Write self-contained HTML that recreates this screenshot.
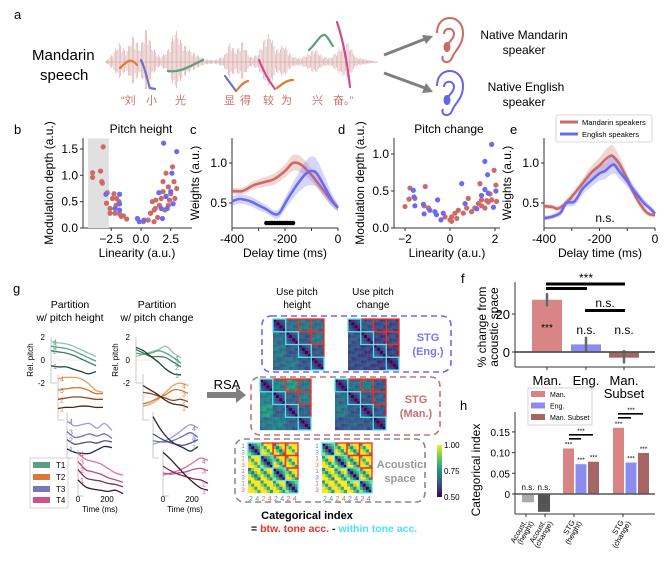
<!DOCTYPE html>
<html><head><meta charset="utf-8"><style>
html,body{margin:0;padding:0;background:#fff;}
svg{display:block;font-family:"Liberation Sans","Noto Sans CJK SC",sans-serif;}
</style></head><body>
<svg id="fig" width="670" height="563" viewBox="0 0 670 563" xmlns="http://www.w3.org/2000/svg">
<!-- panel a static -->
<text x="14" y="19" font-size="13">a</text>
<text x="32" y="60" font-size="15">Mandarin</text>
<text x="40" y="80" font-size="15">speech</text>
<g id="wave"></g>
<g font-size="11" fill="#c8706a" font-family="'Liberation Sans','Noto Sans CJK SC',sans-serif">
<text x="121" y="104">“刘</text><text x="146" y="104">小</text><text x="175" y="104">光</text>
<text x="224" y="104">显</text><text x="240" y="104">得</text><text x="263" y="104">较</text><text x="281" y="104">为</text>
<text x="312" y="104">兴</text><text x="333" y="104">奋。”</text></g>
<g fill="none" stroke-width="2.2" stroke-linecap="round">
<path d="M120,68 C126,63 130,56 137,65" stroke="#e07a30"/>
<path d="M141,60 C146,70 148,84 150,88 L155,89" stroke="#7070c8"/>
<path d="M168,71 C180,73 190,66 203,60" stroke="#5aa07a"/>
<path d="M225,76 L236,91" stroke="#7070c8"/>
<path d="M237,90 C240,86 244,82 248,81" stroke="#e07a30"/>
<path d="M259,60 C264,72 268,80 275,89" stroke="#d04a90"/>
<path d="M277,88 C282,84 287,80 293,80" stroke="#e07a30"/>
<path d="M309,50 C316,44 320,34 325,35 C329,38 331,44 333,46" stroke="#5aa07a"/>
<path d="M337,22 C343,40 347,60 350,87" stroke="#d04a90"/>
</g>
<g stroke="#7f7f7f" stroke-width="3">
<line x1="384" y1="55" x2="425" y2="39"/><polygon points="433,36 422,35 426,44" fill="#7f7f7f" stroke="none"/>
<line x1="384" y1="73" x2="425" y2="88"/><polygon points="433,92 426,83 422,93" fill="#7f7f7f" stroke="none"/>
</g>
<g transform="translate(437,18)" fill="none" stroke="#c86b66" stroke-width="2">
<path d="M6,38 C3,44 12,47 15,40 C17,33 26,28 26,15 C26,5 19,0 13,0 C5,0 0,6 0,15"/>
<path d="M7,16 C7,9 17,9 17,16 C17,21 12,23 11,27"/><ellipse cx="10" cy="29" rx="2.5" ry="4" fill="#c86b66"/></g>
<g transform="translate(437,71)" fill="none" stroke="#6565e6" stroke-width="2">
<path d="M6,38 C3,44 12,47 15,40 C17,33 26,28 26,15 C26,5 19,0 13,0 C5,0 0,6 0,15"/>
<path d="M7,16 C7,9 17,9 17,16 C17,21 12,23 11,27"/><ellipse cx="10" cy="29" rx="2.5" ry="4" fill="#6565e6"/></g>
<g font-size="12" text-anchor="middle">
<text x="524" y="39">Native Mandarin</text><text x="524" y="54">speaker</text>
<text x="526" y="91">Native English</text><text x="524" y="106">speaker</text></g>

<!-- row 2 labels -->
<g font-size="13">
<text x="14" y="134">b</text><text x="190" y="134">c</text><text x="338" y="134">d</text><text x="510" y="134">e</text></g>
<text x="141" y="133" font-size="12" text-anchor="middle">Pitch height</text>
<text x="449" y="133" font-size="12" text-anchor="middle">Pitch change</text>
<g id="row2"></g>

<!-- panel g -->
<text x="13" y="293" font-size="13">g</text>
<g font-size="10.5" text-anchor="middle">
<text x="70" y="308">Partition</text><text x="70" y="321">w/ pitch height</text>
<text x="157" y="308">Partition</text><text x="157" y="321">w/ pitch change</text></g>
<g id="gplots"></g>
<g>
<rect x="30" y="458" width="38" height="50" fill="#fff" stroke="#ccc" stroke-width="0.8"/>
<rect x="33" y="462" width="17" height="6" fill="#5aa07a"/><text x="56" y="468" font-size="8">T1</text>
<rect x="33" y="474" width="17" height="6" fill="#d87a3a"/><text x="56" y="480" font-size="8">T2</text>
<rect x="33" y="486" width="17" height="6" fill="#7777bb"/><text x="56" y="492" font-size="8">T3</text>
<rect x="33" y="497" width="17" height="6" fill="#d05090"/><text x="56" y="503" font-size="8">T4</text></g>
<text x="227" y="389" font-size="13" text-anchor="middle">RSA</text>
<g><rect x="207" y="392" width="30" height="6" fill="#808080"/><polygon points="236,387 246,395 236,403" fill="#808080"/></g>
<g font-size="10" text-anchor="middle">
<text x="297" y="295">Use pitch</text><text x="297" y="308">height</text>
<text x="373" y="295">Use pitch</text><text x="373" y="308">change</text></g>
<rect x="262" y="316" width="189" height="56" rx="9" fill="none" stroke="#6a6aee" stroke-width="1.6" stroke-dasharray="6,4"/>
<rect x="251" y="377" width="189" height="58" rx="9" fill="none" stroke="#c87070" stroke-width="1.6" stroke-dasharray="6,4"/>
<rect x="235" y="439" width="190" height="63" rx="9" fill="none" stroke="#888" stroke-width="1.6" stroke-dasharray="6,4"/>
<g font-size="11" font-weight="bold" text-anchor="middle">
<text x="428" y="341" fill="#7777ee">STG</text><text x="428" y="355" fill="#7777ee">(Eng.)</text>
<text x="416" y="403" fill="#c87070">STG</text><text x="416" y="417" fill="#c87070">(Man.)</text>
<text x="400" y="468" fill="#999">Acoustic</text><text x="400" y="482" fill="#999">space</text></g>
<g id="mats"></g>
<defs><linearGradient id="vgrad" x1="0" y1="1" x2="0" y2="0">
<stop offset="0" stop-color="#440154"/><stop offset="0.25" stop-color="#3b528b"/><stop offset="0.5" stop-color="#21918c"/><stop offset="0.75" stop-color="#5ec962"/><stop offset="1" stop-color="#fde725"/></linearGradient></defs>
<rect x="437" y="445" width="5" height="52" fill="url(#vgrad)"/>
<g font-size="8"><text x="444" y="448">1.00</text><text x="444" y="474">0.75</text><text x="444" y="500">0.50</text></g>
<text x="307" y="519" font-size="11" font-weight="bold" text-anchor="middle">Categorical index</text>
<text x="251" y="532" font-size="10.5" font-weight="bold">= <tspan fill="#e8302a">btw. tone acc.</tspan> - <tspan fill="#4fe0f0">within tone acc.</tspan></text>

<!-- f & h -->
<text x="461" y="283" font-size="13">f</text>
<text x="460" y="410" font-size="13">h</text>
<g id="fh"></g>
</svg>
<script>
// ---------- DATA ----------
const bRedX=[-4.07,-4.07,-3.4,-3.18,-3.3,-3.25,-2.83,-2.9,-2.6,-2.27,-2.05,-2.1,-2.6,-2.18,-1.8,-1.48,-1.2,-1.67,-1.85,-2.4,0.2,0.6,0.8,0.95,1.1,1.2,1.4,1.55,1.7,1.85,1.85,2.1,2.3,2.5,2.65,2.77,3.0,2.85,1.25,2.0,2.3,2.1,2.4,1.1];
const bRedY=[1.05,0.96,1.08,1.54,0.88,0.85,0.67,0.47,0.37,0.65,0.56,0.43,0.28,0.28,0.27,0.23,0.17,0.22,0.5,0.56,0.12,0.15,0.28,0.5,0.12,0.37,0.2,0.43,0.56,0.69,0.88,1.04,0.78,0.65,1.16,0.88,0.75,0.56,0.53,0.34,0.43,0.6,0.53,0.34];
const bBlueX=[-2.95,-2.18,-1.8,-1.8,-1.8,-0.3,-0.15,0.25,1.5,1.9,1.8,2.1,2.2,2.5,2.6,3.0,2.7,1.7];
const bBlueY=[0.64,0.37,0.64,0.46,0.34,0.18,0.12,0.15,0.67,1.61,0.18,0.6,0.37,0.69,1.04,1.45,0.46,0.37];
const dRedX=[-2.0,-1.82,-1.78,-1.56,-1.1,-1.15,-0.96,-0.22,0,0.07,0.22,0.37,0.59,0.74,0.81,0.96,1.1,1.26,1.33,1.4,1.55,1.63,1.78,1.85,1.96,2.04,2.07,0.07,0.3,1.4,1.7];
const dRedY=[0.29,0.39,0.54,0.4,0.56,0.3,0.27,0.15,0.11,0.15,0.2,0.24,0.2,0.27,0.4,0.22,0.27,0.33,0.6,0.38,0.27,0.37,0.46,0.38,0.78,0.58,0.36,0.09,0.13,0.3,0.35];
const dBlueX=[-1.63,-1.6,-1.56,-1.18,-1.15,-0.9,-0.67,-0.55,-0.6,-0.4,-0.3,0.52,0.67,1.19,1.4,1.55,1.55,1.67,1.85,1.7,1.93,2.04];
const dBlueY=[0.51,0.42,0.3,0.32,0.19,0.24,0.22,0.38,0.18,0.11,0.2,0.6,0.33,0.26,0.44,0.52,0.9,0.72,1.13,0.47,0.28,0.5];
const cTime=[-400,-360,-320,-280,-240,-200,-170,-140,-100,-60,-30,0];
const cMan=[0.65,0.65,0.72,0.76,0.8,0.9,1.0,0.98,0.85,0.68,0.55,0.44];
const cManErr=[0.04,0.04,0.05,0.06,0.07,0.08,0.1,0.1,0.08,0.07,0.06,0.04];
const cTimeE=[-400,-370,-330,-300,-270,-240,-220,-190,-150,-120,-100,-80,-50,-20,0];
const cEng=[0.52,0.55,0.52,0.47,0.42,0.36,0.38,0.55,0.75,0.87,0.9,0.87,0.7,0.52,0.44];
const cEngErr=[0.06,0.06,0.06,0.06,0.05,0.05,0.06,0.08,0.12,0.16,0.18,0.17,0.13,0.08,0.05];
const cSigTimes=[-270,-260,-250,-240,-230,-220,-210,-200,-190,-180,-170];
const eTime=[-400,-370,-350,-320,-290,-260,-230,-200,-180,-160,-150,-130,-100,-70,-40,-20,0];
const eMan=[0.46,0.45,0.43,0.5,0.62,0.75,0.88,0.97,1.04,1.09,1.08,1.0,0.8,0.58,0.42,0.36,0.35];
const eManErr=[0.03,0.03,0.03,0.04,0.05,0.06,0.08,0.1,0.12,0.13,0.13,0.1,0.07,0.05,0.04,0.03,0.03];
const eTimeE=[-400,-370,-340,-320,-290,-260,-230,-200,-180,-150,-130,-100,-70,-40,-20,0];
const eEng=[0.31,0.33,0.38,0.5,0.52,0.68,0.78,0.87,0.9,0.98,0.9,0.77,0.63,0.5,0.44,0.37];
const eEngErr=[0.03,0.03,0.04,0.05,0.05,0.07,0.08,0.09,0.1,0.11,0.09,0.07,0.06,0.05,0.04,0.03];
const fCats=["Man.","Eng.","Man. Subset"];
const fVals=[27.5,4,-3];
const fLo=[24,0,-6];
const fHi=[31,8,1];
const fTicks=[0,20];
const hGroups=["Acoust. (height)","Acoust. (change)","STG (height)","STG (change)"];
const hAcoust=[-0.02,-0.043];
const hManVals=[0.11,0.16];
const hEngVals=[0.072,0.076];
const hSubVals=[0.078,0.099];
const hTicks=[0,0.05,0.10,0.15];
const hTickLabels=["0","0.05","0.10","0.15"];
const waveEnv=[[105,0],[112,8],[120,20],[126,10],[133,28],[140,14],[146,36],[152,16],[160,5],[168,12],[175,34],[182,20],[190,12],[198,7],[205,3],[215,2],[224,6],[230,20],[236,10],[242,22],[250,5],[258,8],[264,22],[270,30],[276,12],[284,18],[292,6],[300,4],[308,8],[315,14],[322,6],[330,4],[340,14],[348,20],[356,5],[365,3],[378,0]];
// pitch lines: [level4, level3, level2, level1]
const gHeight=[
[[1.6,1.5,1.4,1.2,0.9,0.6,0.3],[1.2,1.1,1.0,0.8,0.5,0.2,-0.1],[0.8,0.7,0.6,0.4,0.1,-0.2,-0.5],[-0.5,-0.6,-0.6,-0.8,-1.0,-1.2,-1.0]],
[[1.6,1.7,1.7,1.6,1.2,0.6,0.4],[0.6,0.7,0.8,0.8,0.6,0.3,0.3],[-0.2,-0.1,0,0,-0.1,-0.2,-0.2],[-1.0,-0.9,-0.9,-0.8,-0.8,-0.9,-0.9]],
[[1.2,0.8,0.9,1.0,0.6,1.0,0.4],[0.3,-0.2,-0.1,0.1,-0.1,0.1,-0.3],[-0.4,-0.8,-0.7,-0.6,-0.7,-0.5,-0.6],[-1.2,-1.5,-1.6,-1.6,-1.3,-1.0,-1.1]],
[[1.7,1.2,1.0,0.8,0.4,0.0,-0.2],[1.0,0.3,0.1,-0.1,-0.4,-0.6,-0.8],[0.3,-0.4,-0.6,-0.7,-0.9,-1.0,-1.2],[-0.6,-1.2,-1.4,-1.5,-1.6,-1.5,-1.8]]];
const gChange=[
[[0.3,0.5,0.7,0.9,1.2,0.6,0.2],[0.6,0.5,0.6,0.8,0.6,0.2,-0.3],[0.9,0.6,0.3,0.3,0.2,-0.2,-0.6],[1.1,0.8,0.3,-0.2,-0.8,-1.2,-1.3]],
[[-0.8,-0.6,-0.2,0.4,1.0,1.2,1.0],[-0.6,-0.4,-0.1,0.2,0.6,0.6,0.3],[0.4,0.3,0.1,-0.1,-0.3,-0.2,-0.4],[1.0,0.6,0.2,-0.3,-0.6,-0.7,-0.9]],
[[-0.8,-0.6,-0.4,0,0.5,0.9,0.6],[-0.5,-0.6,-0.6,-0.4,-0.1,0.2,-0.2],[0.1,-0.3,-0.6,-0.8,-0.9,-0.7,-0.4],[1.6,0.5,-0.3,-0.8,-1.1,-1.4,-1.0]],
[[-0.2,0.0,0.2,0.5,0.9,1.3,1.1],[0.0,-0.1,0.0,0.1,0.3,0.4,0.2],[0.6,0.2,-0.1,-0.3,-0.5,-0.6,-0.9],[1.8,1.2,0.5,-0.2,-0.8,-1.3,-1.5]]];
const matEngH=[[0.55,0.68,0.70,0.68],[0.68,0.57,0.64,0.70],[0.70,0.64,0.57,0.64],[0.68,0.70,0.64,0.56]];
const matEngC=[[0.55,0.64,0.62,0.62],[0.64,0.58,0.60,0.62],[0.62,0.60,0.58,0.60],[0.62,0.62,0.60,0.54]];
const matManH=[[0.56,0.72,0.76,0.70],[0.72,0.58,0.66,0.72],[0.76,0.66,0.58,0.66],[0.70,0.72,0.66,0.57]];
const matManC=[[0.55,0.68,0.70,0.64],[0.68,0.56,0.64,0.66],[0.70,0.64,0.56,0.64],[0.64,0.66,0.64,0.54]];
const matAcH=[[0.60,0.90,0.80,0.92],[0.90,0.62,0.84,0.88],[0.80,0.84,0.62,0.86],[0.92,0.88,0.86,0.62]];
const matAcC=[[0.60,0.86,0.84,0.88],[0.86,0.64,0.82,0.90],[0.84,0.82,0.64,0.84],[0.88,0.90,0.84,0.62]];

// ---------- helpers ----------
const NS="http://www.w3.org/2000/svg";
function E(tag,attrs,parent){const el=document.createElementNS(NS,tag);for(const k in attrs)el.setAttribute(k,attrs[k]);parent.appendChild(el);return el;}
function T(x,y,s,attrs,parent){const el=E('text',Object.assign({x:x,y:y},attrs),parent);el.textContent=s;return el;}
const RED="#cd6a66",BLUE="#6b6bf0";

// waveform
const wave=document.getElementById('wave');
E('line',{x1:105,y1:62,x2:378,y2:62,stroke:'#e3c0c0','stroke-width':1},wave);
for(let x=105;x<=378;x+=1.3){
  let a=0;for(let i=0;i<waveEnv.length-1;i++){const p=waveEnv[i],q=waveEnv[i+1];if(x>=p[0]&&x<=q[0]){a=p[1]+(q[1]-p[1])*(x-p[0])/(q[0]-p[0]);}}
  const f=0.55+0.45*Math.abs(Math.sin(x*1.7));
  const l=E('line',{x1:x,y1:62-a*f,x2:x,y2:62+a*f*0.85,stroke:'#d9a9a9','stroke-width':0.8,opacity:0.85},wave);
}

// ---------- row 2 ----------
const row2=document.getElementById('row2');
function axes(x0,x1,y0,y1,name){
  const g=E('g',{},row2);
  
  
  E('line',{x1:x0,y1:y0,x2:x0,y2:y1,stroke:'#333','stroke-width':1},g);
  E('line',{x1:x0,y1:y1,x2:x1,y2:y1,stroke:'#333','stroke-width':1},g);
  return g;
}
function ytick(g,x0,y,lab){E('line',{x1:x0-3,y1:y,x2:x0,y2:y,stroke:'#333'},g);T(x0-5,y+4,lab,{'font-size':12,'text-anchor':'end'},g);}
function xtick(g,x,y1,lab){E('line',{x1:x,y1:y1,x2:x,y2:y1+3,stroke:'#333'},g);T(x,y1+15,lab,{'font-size':12,'text-anchor':'middle'},g);}
function ylab(g,x,y,s){T(x,y,s,{'font-size':12,'text-anchor':'middle',transform:`rotate(-90 ${x} ${y})`},g);}

// b
const bx=v=>141+v*11.9, by=v=>228-v*52.7;
let gb=axes(83,192,138,228,'panel-b-axes');
E('rect',{x:bx(-4.45),y:by(1.7),width:bx(-2.7)-bx(-4.45),height:by(0)-by(1.7),fill:'#e0e0e0'},gb);
[[0,'0.0'],[0.5,'0.5'],[1,'1.0'],[1.5,'1.5']].forEach(t=>ytick(gb,83,by(t[0]),t[1]));
[[-2.5,'−2.5'],[0,'0.0'],[2.5,'2.5']].forEach(t=>xtick(gb,bx(t[0]),228,t[1]));
ylab(gb,53,183,'Modulation depth (a.u.)');T(137,257,'Linearity (a.u.)',{'font-size':12,'text-anchor':'middle'},gb);
bRedX.forEach((v,i)=>{const c=E('circle',{cx:bx(v),cy:by(bRedY[i]),r:2.6,fill:RED},gb);

});
bBlueX.forEach((v,i)=>{const c=E('circle',{cx:bx(v),cy:by(bBlueY[i]),r:2.6,fill:BLUE},gb);

});

// d
const dx=v=>450+v*22.5, dy=v=>228-v*74;
let gd=axes(394,500,138,228,'panel-d-axes');
[[0,'0.0'],[0.5,'0.5'],[1,'1.0']].forEach(t=>ytick(gd,394,dy(t[0]),t[1]));
[[-2,'−2'],[0,'0'],[2,'2']].forEach(t=>xtick(gd,dx(t[0]),228,t[1]));
ylab(gd,364,183,'Modulation depth (a.u.)');T(447,257,'Linearity (a.u.)',{'font-size':12,'text-anchor':'middle'},gd);
dRedX.forEach((v,i)=>{const c=E('circle',{cx:dx(v),cy:dy(dRedY[i]),r:2.6,fill:RED},gd);

});
dBlueX.forEach((v,i)=>{const c=E('circle',{cx:dx(v),cy:dy(dBlueY[i]),r:2.6,fill:BLUE},gd);

});

// line panels
function smoothPath(pts){let d=`M${pts[0][0]},${pts[0][1]}`;for(let i=0;i<pts.length-1;i++){const p0=pts[Math.max(0,i-1)],p1=pts[i],p2=pts[i+1],p3=pts[Math.min(pts.length-1,i+2)];
d+=` C${p1[0]+(p2[0]-p0[0])/6},${p1[1]+(p2[1]-p0[1])/6} ${p2[0]-(p3[0]-p1[0])/6},${p2[1]-(p3[1]-p1[1])/6} ${p2[0]},${p2[1]}`;}return d;}
function band(g,t,v,e,X,Y,col,name){
  const up=t.map((tt,i)=>[X(tt),Y(v[i]+e[i])]), lo=t.map((tt,i)=>[X(tt),Y(v[i]-e[i])]).reverse();
  const bp=E('path',{d:smoothPath(up)+' L'+lo[0][0]+','+lo[0][1]+smoothPath(lo).slice(smoothPath(lo).indexOf('C')-1)+' Z',fill:col,opacity:0.28},g);
  
  
  const ln=E('path',{d:smoothPath(t.map((tt,i)=>[X(tt),Y(v[i])])),fill:'none',stroke:col,'stroke-width':2.6},g);
  
  
}
// c
const cx=t=>232+(t+400)*0.265, cy=v=>163-(v-1)*80;
let gc=axes(232,338,138,228,'panel-c-axes');
[[0.5,'0.5'],[1,'1.0']].forEach(t=>ytick(gc,232,cy(t[0]),t[1]));
[[-400,'-400'],[-200,'-200'],[0,'0']].forEach(t=>xtick(gc,cx(t[0]),228,t[1]));
E('line',{x1:cx(-300),y1:228,x2:cx(-300),y2:231,stroke:'#333'},gc);E('line',{x1:cx(-100),y1:228,x2:cx(-100),y2:231,stroke:'#333'},gc);
ylab(gc,199,183,'Weights (a.u.)');T(285,257,'Delay time (ms)',{'font-size':12,'text-anchor':'middle'},gc);
band(gc,cTime,cMan,cManErr,cx,cy,RED,'c-mandarin');
band(gc,cTimeE,cEng,cEngErr,cx,cy,BLUE,'c-english');
cSigTimes.forEach(t=>{const c=E('circle',{cx:cx(t),cy:223,r:2.3,fill:'#000'},gc);

});
// e
const ex=t=>544+(t+400)*0.2775, ey=v=>163-(v-1)*80;
let ge=axes(544,655,138,228,'panel-e-axes');
[[0.5,'0.5'],[1,'1.0']].forEach(t=>ytick(ge,544,ey(t[0]),t[1]));
[[-400,'-400'],[-200,'-200'],[0,'0']].forEach(t=>xtick(ge,ex(t[0]),228,t[1]));
E('line',{x1:ex(-300),y1:228,x2:ex(-300),y2:231,stroke:'#333'},ge);E('line',{x1:ex(-100),y1:228,x2:ex(-100),y2:231,stroke:'#333'},ge);
ylab(ge,511,183,'Weights (a.u.)');T(600,257,'Delay time (ms)',{'font-size':12,'text-anchor':'middle'},ge);
band(ge,eTime,eMan,eManErr,ex,ey,RED,'e-mandarin');
band(ge,eTimeE,eEng,eEngErr,ex,ey,BLUE,'e-english');
T(605,222,'n.s.',{'font-size':12,'text-anchor':'middle'},ge);
const lg=E('g',{},row2);


E('rect',{x:556,y:115,width:96,height:27,fill:'#fff',stroke:'#ccc','stroke-width':0.8,rx:2},lg);
E('line',{x1:560,y1:122,x2:578,y2:122,stroke:RED,'stroke-width':3},lg);T(582,125,'Mandarin speakers',{'font-size':7.5},lg);
E('line',{x1:560,y1:134,x2:578,y2:134,stroke:BLUE,'stroke-width':3},lg);T(582,137,'English speakers',{'font-size':7.5},lg);

// ---------- panel g plots ----------
const gp=document.getElementById('gplots');
const toneCols=[["#8cc9a5","#5fa380","#3e7a5c","#1e4430"],["#e8a060","#d07a3a","#8a4a22","#4a2810"],["#9a9ad8","#7272b8","#4e4e88","#2a2a48"],["#e070a8","#c04d88","#7a3050","#3a1828"]];
const toneMain=["#5aa07a","#d87a3a","#7777bb","#d05090"];
const subZero=[360,397,435,473];
const leftAx=[51,58,67,78], rightAx=[136,143,153,163];
function drawG(data,axX,labelEnd,name){
  data.forEach((tone,k)=>{
    const x0=axX[k], z=subZero[k];
    const g=E('g',{},gp);
    
    
    E('line',{x1:x0,y1:z-23,x2:x0,y2:z+23,stroke:'#bbb','stroke-width':0.8},g);
    E('line',{x1:x0,y1:z+23,x2:x0+6,y2:z+23,stroke:'#bbb','stroke-width':0.8},g);
    E('line',{x1:x0,y1:z,x2:x0+45,y2:z,stroke:'#ddd','stroke-width':0.6},g);
    tone.forEach((ln,j)=>{
      const pts=ln.map((v,i)=>[x0+i*7.5,z-v*11.5]);
      const p=E('path',{d:smoothPath(pts),fill:'none',stroke:toneCols[k][j],'stroke-width':1.3},g);
      
      
      const lp=labelEnd?pts[pts.length-1]:pts[0];
      T(lp[0]+(labelEnd?-6:2),lp[1]+3,String(4-j),{'font-size':7,fill:toneMain[k]},g);
    });
  });
}
drawG(gHeight,leftAx,false,'height-partition');
drawG(gChange,rightAx,true,'change-partition');
const gax=E('g',{'font-size':8},gp);


T(45,340,'2',{'text-anchor':'end'},gax);T(45,363,'0',{'text-anchor':'end'},gax);T(45,386,'-2',{'text-anchor':'end'},gax);
T(130,340,'2',{'text-anchor':'end'},gax);T(130,363,'0',{'text-anchor':'end'},gax);T(130,386,'-2',{'text-anchor':'end'},gax);
T(33,360,'Rel. pitch',{'text-anchor':'middle',transform:'rotate(-90 33 360)'},gax);
T(118,360,'Rel. pitch',{'text-anchor':'middle',transform:'rotate(-90 118 360)'},gax);
T(78,502,'0',{'text-anchor':'middle'},gax);T(107,502,'200',{'text-anchor':'middle'},gax);T(100,512,'Time (ms)',{'text-anchor':'middle'},gax);
T(163,502,'0',{'text-anchor':'middle'},gax);T(192,502,'200',{'text-anchor':'middle'},gax);T(185,512,'Time (ms)',{'text-anchor':'middle'},gax);

// ---------- matrices ----------
const mats=document.getElementById('mats');
function vir(t){t=Math.max(0,Math.min(1,t));const s=[[68,1,84],[59,82,139],[33,145,140],[94,201,98],[253,231,37]];const p=t*4,i=Math.min(3,Math.floor(p)),f=p-i;
return `rgb(${s[i].map((c,k)=>Math.round(c+(s[i+1][k]-c)*f)).join(',')})`;}
function drawMat(x,y,size,blocks,acoustic,name){
  const g=E('g',{},mats);
  
  
  const n=16,c=size/n;
  for(let i=0;i<n;i++)for(let j=0;j<n;j++){
    const bi=Math.floor(i/4),bj=Math.floor(j/4),a=i%4,b=j%4;
    let v=blocks[bi][bj];
    if(i===j)v=0.5;
    else if(acoustic)v+=0.12*Math.abs(a-b)-0.06+(((i*5+j*3)%4)-1.5)*0.03;
    else v+=(bi===bj?0.03*Math.abs(a-b):(((i*7+j*11)%5)-2)*0.015);
    const r=E('rect',{x:x+j*c,y:y+i*c,width:c+0.2,height:c+0.2,fill:vir((v-0.5)/0.5)},g);
    
    
  }
  const bs=size/4;
  for(let bi=0;bi<4;bi++)for(let bj=bi+1;bj<4;bj++)E('rect',{x:x+bj*bs,y:y+bi*bs,width:bs,height:bs,fill:'none',stroke:'#ff2a1a','stroke-width':1.3},g);
  for(let bi=0;bi<4;bi++)E('rect',{x:x+bi*bs,y:y+bi*bs,width:bs,height:bs,fill:'none',stroke:'#50e8f0','stroke-width':1.3},g);
  if(acoustic){
    for(let k=0;k<8;k++){const col=toneMain[Math.floor(k/2)];
      T(x-5,y+k*size/8+5,k%2?'3':'1',{'font-size':6.5,fill:col,'text-anchor':'middle'},g);
      T(x+k*size/8+3,y+size+8,k%2?'4':'2',{'font-size':7,fill:col,'text-anchor':'middle'},g);}
  }
}
drawMat(273,319,51,matEngH,false,'matrix-stg-eng-height');
drawMat(348,319,51,matEngC,false,'matrix-stg-eng-change');
drawMat(260,379,51,matManH,false,'matrix-stg-man-height');
drawMat(335,379,51,matManC,false,'matrix-stg-man-change');
drawMat(248,443,50,matAcH,true,'matrix-acoustic-height');
drawMat(322,443,50,matAcC,true,'matrix-acoustic-change');

// ---------- f ----------
const fh=document.getElementById('fh');
const fy=v=>352-v*1.9, fxc=[547,586,624], fCols=["#d98585","#8c8cf0","#a56565"];
const gf=E('g',{},fh);


fVals.forEach((v,i)=>{
  const r=E('rect',{x:fxc[i]-15,y:Math.min(fy(v),fy(0)),width:30,height:Math.abs(fy(v)-fy(0)),fill:fCols[i]},gf);
  
  
  const e=E('line',{x1:fxc[i],y1:fy(fLo[i]),x2:fxc[i],y2:fy(fHi[i]),stroke:'#666','stroke-width':2.5},gf);
  
  
});
E('line',{x1:515,y1:fy(0),x2:655,y2:fy(0),stroke:'#555','stroke-width':1.8},gf);
E('line',{x1:515,y1:282,x2:515,y2:367,stroke:'#333'},gf);E('line',{x1:515,y1:367,x2:655,y2:367,stroke:'#333'},gf);
fTicks.forEach(t=>{E('line',{x1:512,y1:fy(t),x2:515,y2:fy(t),stroke:'#333'},gf);T(510,fy(t)+5,String(t),{'font-size':13,'text-anchor':'end'},gf);});
fxc.forEach(x=>E('line',{x1:x,y1:367,x2:x,y2:370,stroke:'#333'},gf));
T(547,385,'Man.',{'font-size':13,'text-anchor':'middle'},gf);T(586,385,'Eng.',{'font-size':13,'text-anchor':'middle'},gf);
T(624,385,'Man.',{'font-size':13,'text-anchor':'middle'},gf);T(624,398,'Subset',{'font-size':13,'text-anchor':'middle'},gf);
T(486,327,'% change from',{'font-size':12,'text-anchor':'middle',transform:'rotate(-90 486 327)'},gf);
T(498,327,'acoustic space',{'font-size':12,'text-anchor':'middle',transform:'rotate(-90 498 327)'},gf);
E('rect',{x:546,y:282.5,width:79,height:3,fill:'#000'},gf);E('rect',{x:546,y:287,width:41,height:3,fill:'#000'},gf);
T(586,282,'***',{'font-size':12,'text-anchor':'middle'},gf);
E('rect',{x:585,y:309,width:40,height:3,fill:'#000'},gf);T(605,307,'n.s.',{'font-size':12,'text-anchor':'middle'},gf);
T(586,334,'n.s.',{'font-size':12,'text-anchor':'middle'},gf);T(624,334,'n.s.',{'font-size':12,'text-anchor':'middle'},gf);
T(547,331,'***',{'font-size':10,'text-anchor':'middle'},gf);

// ---------- h ----------
const hy=v=>494-v*414;
const gh=E('g',{},fh);


const acX=[528,544], acC=["#aaaaaa","#555555"];
hAcoust.forEach((v,i)=>{const r=E('rect',{x:acX[i]-6,y:hy(0),width:12,height:hy(v)-hy(0),fill:acC[i]},gh);


T(acX[i],490,'n.s.',{'font-size':8,'text-anchor':'middle'},gh);});
const gC=[581,631];
[hManVals,hEngVals,hSubVals].forEach((arr,s)=>{arr.forEach((v,gi)=>{
  const x=gC[gi]+(s-1)*12.5;
  const r=E('rect',{x:x-5.5,y:hy(v),width:11,height:hy(0)-hy(v),fill:fCols[s]},gh);
  
  
  T(x,hy(v)-2,'***',{'font-size':6.5,'text-anchor':'middle'},gh);
});});
E('line',{x1:515,y1:hy(0),x2:655,y2:hy(0),stroke:'#555','stroke-width':1.5},gh);
E('line',{x1:515,y1:412,x2:515,y2:514,stroke:'#333'},gh);E('line',{x1:515,y1:514,x2:655,y2:514,stroke:'#333'},gh);
hTicks.forEach((t,i)=>{E('line',{x1:512,y1:hy(t),x2:515,y2:hy(t),stroke:'#333'},gh);T(510,hy(t)+4,hTickLabels[i],{'font-size':10,'text-anchor':'end'},gh);});
const hTickX=[526,545,574,623];
hTickX.forEach(x=>E('line',{x1:x,y1:514,x2:x,y2:517,stroke:'#333'},gh));
T(480,470,'Categorical index',{'font-size':12,'text-anchor':'middle',transform:'rotate(-90 480 470)'},gh);
const xl=[["Acoust.","(height)"],["Acoust.","(change)"],["STG","(height)"],["STG","(change)"]];
xl.forEach((l,i)=>{const x=hTickX[i];
  T(x+1,522,l[0],{'font-size':7.5,'text-anchor':'end',transform:`rotate(-60 ${x+1} 522)`},gh);
  T(x+8,523,l[1],{'font-size':7.5,'text-anchor':'end',transform:`rotate(-60 ${x+8} 523)`},gh);});
[[569,593,434],[569,581,438],[618,643,413],[618,631,417]].forEach(s=>E('rect',{x:s[0],y:s[2],width:s[1]-s[0],height:1.6,fill:'#000'},gh));
T(581,433,'***',{'font-size':6.5,'text-anchor':'middle'},gh);T(631,412,'***',{'font-size':6.5,'text-anchor':'middle'},gh);
E('rect',{x:528,y:388,width:64,height:37,fill:'#fff',stroke:'#ccc','stroke-width':0.8},gh);
["Man.","Eng.","Man. Subset"].forEach((s,i)=>{E('rect',{x:531,y:391+i*11.5,width:14,height:6,fill:fCols[i]},gh);T(550,397+i*11.5,s,{'font-size':7},gh);});
</script>
</body></html>
